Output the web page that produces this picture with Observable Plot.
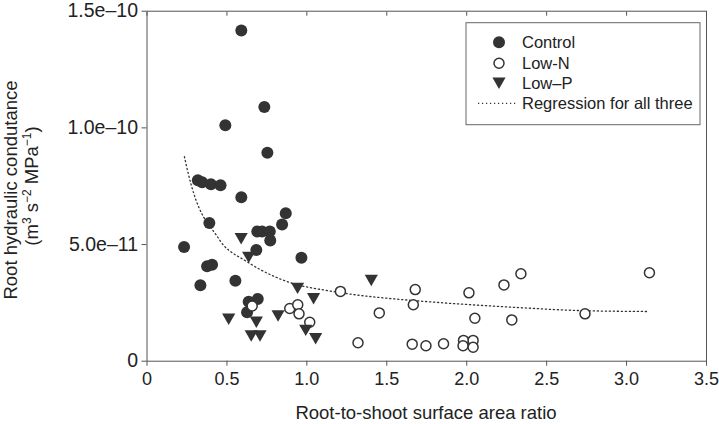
<!DOCTYPE html>
<html><head><meta charset="utf-8">
<script src="https://cdn.jsdelivr.net/npm/d3@7"></script>
<script src="https://cdn.jsdelivr.net/npm/@observablehq/plot@0.6"></script>
<style>
body{margin:0;background:#fff;}
#chart{width:719px;height:424px;}
</style></head><body><div id="chart"></div>
<script>
// values in units of 1e-11 m3 s-2 MPa-1
const unit = 1e-11;
const controlX = [0.59, 0.734, 0.49, 0.753, 0.318, 0.345, 0.40, 0.46, 0.59, 0.868, 0.845, 0.39, 0.69, 0.72, 0.768, 0.771, 0.232, 0.684, 0.966, 0.376, 0.407, 0.553, 0.334, 0.636, 0.693, 0.626];
const controlY = [14.17, 10.89, 10.11, 8.93, 7.75, 7.67, 7.58, 7.54, 7.03, 6.34, 5.86, 5.92, 5.56, 5.56, 5.56, 5.17, 4.89, 4.77, 4.43, 4.07, 4.13, 3.45, 3.25, 2.55, 2.67, 2.10];
const lowNX = [0.658, 0.893, 0.943, 0.951, 1.018, 1.21, 1.453, 1.32, 1.678, 1.666, 1.659, 1.745, 1.855, 1.98, 1.977, 2.04, 2.04, 2.014, 2.051, 2.233, 2.339, 2.282, 3.143, 2.74];
const lowNY = [2.37, 2.26, 2.42, 2.03, 1.67, 2.99, 2.07, 0.79, 3.07, 2.42, 0.73, 0.66, 0.75, 0.89, 0.66, 0.89, 0.60, 2.93, 1.84, 3.27, 3.75, 1.77, 3.79, 2.03];
const lowPX = [0.589, 0.636, 0.942, 1.042, 0.511, 0.684, 0.82, 0.652, 0.707, 0.993, 1.055, 1.403];
const lowPY = [5.25, 4.45, 3.12, 2.68, 1.80, 1.67, 1.94, 1.08, 1.08, 1.32, 0.96, 3.46];
const regX = [0.234, 0.261, 0.293, 0.324, 0.355, 0.428, 0.48, 0.543, 0.595, 0.699, 0.917, 1.126, 1.334, 1.5, 1.876, 2.293, 2.709, 3.126];
const regY = [8.77, 7.96, 7.18, 6.6, 6.17, 5.46, 4.96, 4.6, 4.39, 3.96, 3.32, 3.03, 2.82, 2.7, 2.49, 2.31, 2.17, 2.13];
const xTicks = [0, 0.5, 1, 1.5, 2, 2.5, 3, 3.5];
const xTickLabels = ["0", "0.5", "1.0", "1.5", "2.0", "2.5", "3.0", "3.5"];
const yTicks = [0, 5e-11, 1e-10, 1.5e-10];
const yTickLabels = ["0", "5.0e\u201311", "1.0e\u201310", "1.5e\u201310"];
const legendLabels = ["Control", "Low-N", "Low\u2013P", "Regression for all three"];
const xTitle = "Root-to-shoot surface area ratio";
const yTitle1 = "Root hydraulic condutance";

const toRows = (xs, ys) => xs.map((x, i) => ({x, y: ys[i] * unit}));
const control = toRows(controlX, controlY);
const lowN = toRows(lowNX, lowNY);
const lowP = toRows(lowPX, lowPY);
const reg = toRows(regX, regY);

const triDown = {
  draw(context, size) {
    const a = Math.sqrt(size / (Math.sqrt(3) * 3));
    const w = Math.sqrt(3) * a;
    context.moveTo(0, 1.5 * a);
    context.lineTo(w, -1.5 * a);
    context.lineTo(-w, -1.5 * a);
    context.closePath();
  }
};

const ink = "#333";
const font = "Liberation Sans, Arial, Helvetica, sans-serif";

const chart = Plot.plot({
  width: 719, height: 424,
  marginLeft: 146.5, marginRight: 13, marginTop: 10.7, marginBottom: 63.3,
  style: {fontFamily: font, fontSize: "18px", color: "#222", background: "#fff"},
  x: {domain: [0, 3.5]},
  y: {domain: [0, 1.5e-10]},
  marks: [
    Plot.frame({stroke: "#555"}),
    Plot.axisX({ticks: xTicks, tickFormat: d => xTickLabels[xTicks.indexOf(d)], tickSize: 5, tickPadding: 6, label: null, stroke: "#555"}),
    Plot.axisX({anchor: "top", ticks: xTicks, tickFormat: () => "", tickSize: -4, label: null, stroke: "#555"}),
    Plot.axisY({ticks: yTicks, tickFormat: d => yTickLabels[yTicks.indexOf(d)], tickSize: 5, tickPadding: 4, label: null, stroke: "#555", fontSize: 19.5}),
    Plot.line(reg, {x: "x", y: "y", stroke: "#333", strokeWidth: 1.3, strokeDasharray: "1.2,2.8", curve: "monotone-x"}),
    Plot.dot(control, {x: "x", y: "y", r: 6, fill: ink, stroke: "none"}),
    Plot.dot(lowN, {x: "x", y: "y", r: 5, fill: "white", stroke: ink, strokeWidth: 1.5}),
    Plot.dot(lowP, {x: "x", y: "y", r: 4.9, symbol: triDown, fill: ink, stroke: "none"})
  ]
});
document.getElementById("chart").appendChild(chart);

const svg = d3.select(chart);
// axis titles
svg.append("text").attr("x", 426).attr("y", 419).attr("text-anchor", "middle")
  .attr("font-family", font).attr("font-size", 18.5).attr("fill", "#222").text(xTitle);
svg.append("text").attr("transform", "translate(17,190) rotate(-90)").attr("text-anchor", "middle")
  .attr("font-family", font).attr("font-size", 18.5).attr("fill", "#222").text(yTitle1);
const t2 = svg.append("text").attr("transform", "translate(38,186) rotate(-90)").attr("text-anchor", "middle")
  .attr("font-family", font).attr("font-size", 18.5).attr("fill", "#222");
t2.append("tspan").text("(m");
t2.append("tspan").attr("font-size", 12).attr("dy", -7).text("3");
t2.append("tspan").attr("dy", 7).text(" s");
t2.append("tspan").attr("font-size", 12).attr("dy", -7).text("\u22122");
t2.append("tspan").attr("dy", 7).text(" MPa");
t2.append("tspan").attr("font-size", 12).attr("dy", -7).text("\u22121");
t2.append("tspan").attr("dy", 7).text(")");

// legend
const lg = svg.append("g").attr("font-family", font).attr("font-size", 16.5).attr("fill", "#222").attr("text-anchor", "start");
lg.append("rect").attr("x", 466).attr("y", 22.7).attr("width", 234).attr("height", 102)
  .attr("fill", "white").attr("stroke", "#666");
const rowsY = [42.3, 63.3, 83.3, 103.3];
lg.append("circle").attr("cx", 499).attr("cy", rowsY[0]).attr("r", 6).attr("fill", ink);
lg.append("circle").attr("cx", 499).attr("cy", rowsY[1]).attr("r", 5).attr("fill", "white").attr("stroke", ink).attr("stroke-width", 1.5);
lg.append("path").attr("transform", `translate(499,${rowsY[2]})`).attr("d", d3.symbol(triDown, 75)()).attr("fill", ink);
lg.append("line").attr("x1", 478).attr("x2", 517).attr("y1", rowsY[3]).attr("y2", rowsY[3])
  .attr("stroke", "#333").attr("stroke-width", 1.3).attr("stroke-dasharray", "1.2,2.8");
legendLabels.forEach((t, i) => {
  lg.append("text").attr("x", 522).attr("y", rowsY[i]).attr("dy", "0.35em").attr("text-anchor", "start").text(t);
});
</script>
</body></html>
